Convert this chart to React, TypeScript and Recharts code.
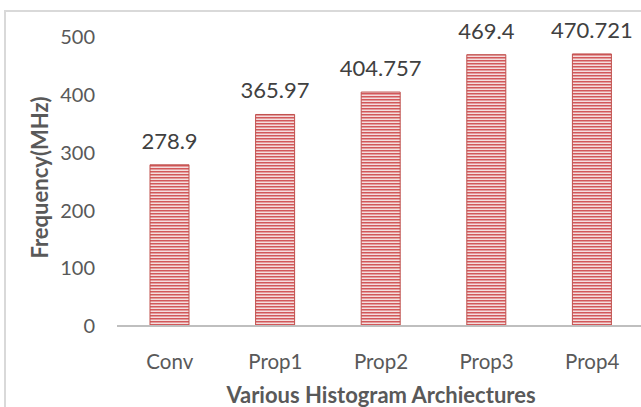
import { BarChart, Bar, XAxis, YAxis, LabelList } from 'recharts'

const categories = ['Conv', 'Prop1', 'Prop2', 'Prop3', 'Prop4']
const frequency = [278.9, 365.97, 404.757, 469.4, 470.721]
const yTicks = [0, 100, 200, 300, 400, 500]

const data = categories.map((name, i) => ({ name, value: frequency[i] }))

const FONT = 'Lato, "Open Sans", sans-serif'

const App = () => (
  <div style={{ position: 'absolute', left: 0, top: 0, width: 641, height: 407, background: '#fff', overflow: 'hidden' }}>
    <div
      style={{
        position: 'absolute',
        left: 4,
        top: 10,
        width: 660,
        height: 420,
        borderLeft: '2px solid #d9d9d9',
        borderTop: '2px solid #d9d9d9',
      }}
    />
    <BarChart
      width={641}
      height={407}
      data={data}
      margin={{ top: 37, right: -4, left: 0, bottom: 4 }}
      style={{ position: 'absolute', left: 0, top: 0, fontFamily: FONT }}
    >
      <defs>
        <pattern id="stripes" width="4" height="3" patternUnits="userSpaceOnUse">
          <rect width="4" height="3" fill="#f4dede" />
          <rect width="4" height="1.5" fill="#d2585a" />
        </pattern>
      </defs>
      <XAxis
        dataKey="name"
        height={77}
        axisLine={{ stroke: '#bfbfbf', strokeWidth: 2 }}
        tickLine={false}
        tick={{ fill: '#595959', fontSize: 20.5 }}
        tickMargin={22}
        label={{
          value: 'Various Histogram Archiectures',
          position: 'insideBottom',
          offset: 0,
          fill: '#595959',
          fontSize: 22,
          fontWeight: 'bold',
        }}
      />
      <YAxis
        width={117}
        domain={[0, 500]}
        ticks={yTicks}
        axisLine={false}
        tickLine={false}
        tickMargin={16}
        tick={{ fill: '#595959', fontSize: 20 }}
        label={{
          value: 'Frequency(MHz)',
          angle: -90,
          position: 'center',
          dx: -18,
          dy: -4,
          fill: '#595959',
          fontSize: 22,
          fontWeight: 'bold',
        }}
      />
      <Bar dataKey="value" barSize={39} fill="url(#stripes)" stroke="#c0504d" strokeWidth={1} isAnimationActive={false}>
        <LabelList dataKey="value" position="top" offset={16} fill="#404040" fontSize={22} />
      </Bar>
    </BarChart>
  </div>
)

export default App
